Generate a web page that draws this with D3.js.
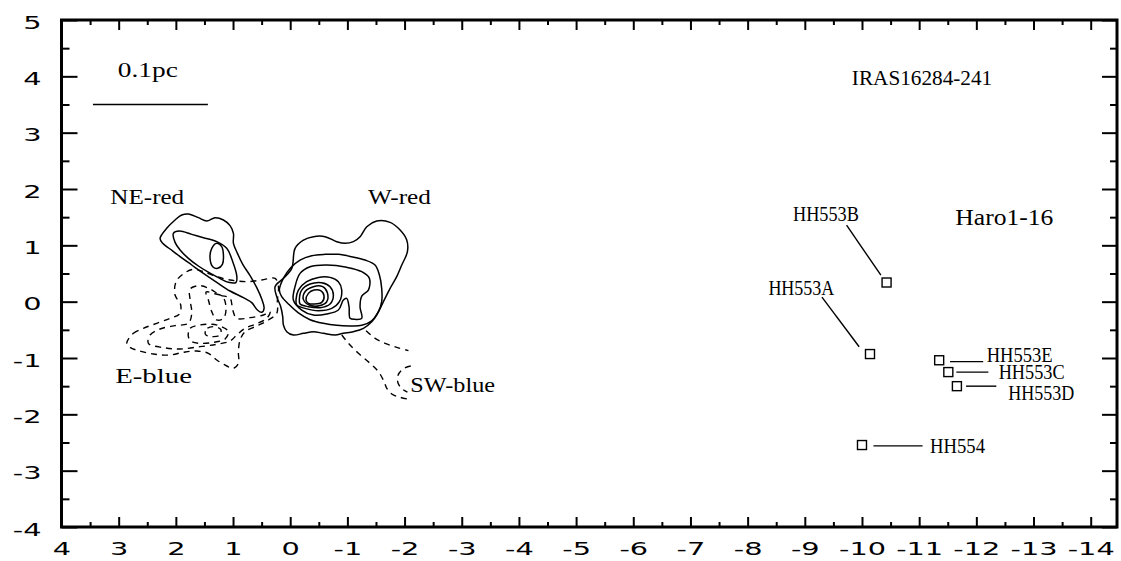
<!DOCTYPE html>
<html>
<head>
<meta charset="utf-8">
<script src="https://cdn.jsdelivr.net/npm/d3@7"></script>
<style>
  body { margin: 0; background: #fff; }
  svg { display: block; }
  .lbl { font-family: "Liberation Serif", "Times New Roman", serif; fill: #000; }
</style>
</head>
<body>
<svg id="chart" width="1121" height="561"></svg>
<script>
// tick labels
var xTicks = [4, 3, 2, 1, 0, -1, -2, -3, -4, -5, -6, -7, -8, -9, -10, -11, -12, -13, -14];
var yTicks = [-4, -3, -2, -1, 0, 1, 2, 3, 4, 5];

// red lobe contours (solid), offsets in the chart units
var neRed1 = [[2.276,1.124],[2.160,1.302],[2.014,1.450],[1.897,1.538],[1.781,1.556],[1.606,1.491],[1.460,1.432],[1.314,1.491],[1.168,1.450],[1.052,1.349],[0.993,1.213],[0.993,1.036],[0.923,0.858],[0.830,0.663],[0.702,0.462],[0.585,0.249],[0.498,0.047],[0.457,-0.118],[0.498,-0.189],[0.574,-0.148],[0.673,-0.018],[0.819,0.071],[1.052,0.189],[1.285,0.343],[1.518,0.503],[1.722,0.651],[1.926,0.799],[2.101,0.935],[2.230,1.036]];
var neRed2 = [[2.043,1.213],[1.938,1.254],[1.722,1.195],[1.518,1.136],[1.285,1.065],[1.110,0.947],[1.005,0.710],[0.935,0.462],[0.947,0.343],[1.081,0.343],[1.256,0.426],[1.448,0.533],[1.606,0.633],[1.781,0.769],[1.926,0.917],[2.014,1.053]];
var neRed3 = [[1.285,1.036],[1.198,0.976],[1.168,0.828],[1.186,0.663],[1.268,0.592],[1.355,0.621],[1.402,0.769],[1.372,0.947]];

var wRed1 = [[0.265,0.266],[0.119,0.414],[-0.027,0.591],[-0.085,0.947],[-0.231,1.094],[-0.406,1.154],[-0.610,1.154],[-0.814,1.065],[-0.960,1.035],[-1.105,1.065],[-1.222,1.154],[-1.339,1.331],[-1.513,1.432],[-1.747,1.408],[-1.922,1.272],[-2.038,1.094],[-2.050,0.887],[-1.951,0.651],[-1.863,0.444],[-1.747,0.236],[-1.630,0.000],[-1.513,-0.237],[-1.426,-0.355],[-1.280,-0.474],[-1.105,-0.533],[-0.930,-0.562],[-0.785,-0.592],[-0.580,-0.562],[-0.406,-0.533],[-0.231,-0.562],[-0.056,-0.592],[0.061,-0.533],[0.119,-0.414],[0.131,-0.266],[0.166,-0.089],[0.236,0.089]];
var wRed2 = [[0.190,0.207],[0.120,0.414],[-0.009,0.603],[-0.172,0.739],[-0.376,0.816],[-0.609,0.840],[-0.842,0.840],[-1.076,0.798],[-1.309,0.739],[-1.484,0.650],[-1.560,0.473],[-1.600,0.236],[-1.600,0.000],[-1.542,-0.178],[-1.425,-0.340],[-1.251,-0.420],[-1.046,-0.430],[-0.813,-0.420],[-0.580,-0.385],[-0.347,-0.320],[-0.143,-0.200],[0.032,-0.040],[0.149,0.088]];
var wRed3 = [[-0.084,0.266],[-0.172,0.502],[-0.347,0.621],[-0.638,0.650],[-0.988,0.609],[-1.251,0.532],[-1.385,0.414],[-1.367,0.206],[-1.251,0.100],[-1.221,-0.089],[-1.251,-0.296],[-1.134,-0.314],[-1.047,-0.296],[-1.029,-0.089],[-0.988,0.059],[-0.930,0.029],[-0.842,-0.149],[-0.638,-0.220],[-0.405,-0.237],[-0.201,-0.149],[-0.055,0.029]];
var wRed4 = [[-0.102,0.041],[-0.143,0.206],[-0.288,0.354],[-0.493,0.431],[-0.697,0.431],[-0.842,0.354],[-0.901,0.206],[-0.860,-0.001],[-0.726,-0.119],[-0.493,-0.160],[-0.259,-0.119],[-0.114,-0.060]];
var wRed5 = [[-0.160,0.041],[-0.201,0.206],[-0.347,0.313],[-0.551,0.337],[-0.697,0.266],[-0.755,0.118],[-0.697,-0.042],[-0.522,-0.107],[-0.318,-0.089],[-0.172,-0.042]];
var wRed6 = [[-0.230,0.041],[-0.259,0.177],[-0.405,0.266],[-0.568,0.266],[-0.650,0.159],[-0.638,-0.001],[-0.510,-0.072],[-0.335,-0.060]];
var wRed7 = [[-0.277,0.029],[-0.318,0.147],[-0.417,0.206],[-0.533,0.195],[-0.592,0.100],[-0.551,-0.012],[-0.423,-0.042],[-0.318,-0.030]];

// blue lobe contours (dashed)
var eBlue1 = [[2.859,-0.739],[2.743,-0.562],[2.568,-0.473],[2.335,-0.384],[2.101,-0.296],[1.938,-0.219],[1.915,-0.059],[2.014,0.118],[1.996,0.355],[1.856,0.503],[1.693,0.574],[1.518,0.533],[1.285,0.444],[1.052,0.385],[0.760,0.355],[0.498,0.385],[0.265,0.414],[0.206,0.266],[0.224,0.030],[0.235,-0.207],[0.381,-0.325],[0.585,-0.432],[0.789,-0.532],[0.877,-0.680],[0.906,-0.887],[0.906,-1.095],[0.993,-1.183],[1.110,-1.142],[1.285,-1.035],[1.431,-0.917],[1.635,-0.876],[1.868,-0.899],[2.101,-0.947],[2.393,-0.929],[2.655,-0.870],[2.801,-0.811]];
var eBlue2 = [[2.480,-0.739],[2.451,-0.592],[2.276,-0.485],[2.014,-0.426],[1.781,-0.384],[1.722,-0.207],[1.751,0.030],[1.751,0.225],[1.577,0.284],[1.402,0.225],[1.227,0.118],[1.052,0.059],[1.005,-0.148],[0.935,-0.296],[0.702,-0.284],[0.469,-0.237],[0.352,-0.177],[0.410,-0.296],[0.614,-0.402],[0.789,-0.473],[0.935,-0.592],[1.052,-0.698],[1.285,-0.757],[1.577,-0.799],[1.926,-0.840],[2.218,-0.816]];
var eBlue3 = [[1.781,-0.621],[1.751,-0.473],[1.577,-0.414],[1.372,-0.402],[1.198,-0.444],[1.081,-0.532],[1.139,-0.663],[1.343,-0.722],[1.577,-0.739],[1.722,-0.710]];
var eBlue4 = [[1.489,-0.562],[1.448,-0.473],[1.332,-0.444],[1.215,-0.491],[1.227,-0.592],[1.343,-0.621],[1.448,-0.609]];
var eBlue5 = [[1.472,0.170],[1.314,0.140],[1.180,0.089],[1.122,-0.118],[1.168,-0.296],[1.285,-0.325],[1.372,-0.177],[1.431,0.030]];

var swBlue1 = [[-0.902,-0.592],[-1.018,-0.740],[-1.193,-0.917],[-1.397,-1.095],[-1.543,-1.243],[-1.642,-1.420],[-1.689,-1.538],[-1.776,-1.639],[-1.922,-1.698],[-2.085,-1.734]];
var swBlue2 = [[-1.327,-0.515],[-1.485,-0.651],[-1.660,-0.740],[-1.864,-0.811],[-2.068,-0.870]];
var swBlue3 = [[-2.109,-1.142],[-1.980,-1.189],[-1.887,-1.302],[-1.887,-1.450],[-1.969,-1.556],[-2.050,-1.604]];

// Herbig-Haro knots
var hhNames = ["HH553A", "HH553B", "HH553C", "HH553D", "HH553E", "HH554"];
var hhX = [-10.14, -10.43, -11.51, -11.66, -11.35, -10.00];
var hhY = [-0.93, 0.34, -1.25, -1.50, -1.04, -2.545];

var svg = d3.select("#chart"),
    margin = {top: 20, right: 4, bottom: 34, left: 61.5},
    width = +svg.attr("width") - margin.left - margin.right,
    height = +svg.attr("height") - margin.top - margin.bottom,
    g = svg.append("g").attr("transform", "translate(" + margin.left + "," + margin.top + ")");

var x = d3.scaleLinear().domain([4, -14.46]).range([0, width]);
var y = d3.scaleLinear().domain([-4, 5]).range([height, 0]);

var xMinor = xTicks.slice(1).map(function(d) { return d + 0.5; });
var yMinor = yTicks.slice(1).map(function(d) { return d - 0.5; });

function tidy(sel) {
  sel.select(".domain").remove();
  sel.selectAll(".tick line").attr("stroke", "#000").attr("stroke-width", 2);
}

// bottom
g.append("g")
    .attr("transform", "translate(0," + height + ")")
    .call(d3.axisBottom(x).tickValues(xTicks).tickSize(-10).tickPadding(15)
      .tickFormat(function(d) { return String(d); }))
    .call(tidy)
    .attr("font-family", "'DejaVu Sans', sans-serif")
    .attr("font-size", 18)
  .selectAll("text")
    .attr("fill", "#000")
    .attr("transform", "scale(1.6,1)");
g.append("g")
    .attr("transform", "translate(0," + height + ")")
    .call(d3.axisBottom(x).tickValues(xMinor).tickSize(-5).tickFormat(""))
    .call(tidy);

// top
g.append("g")
    .call(d3.axisTop(x).tickValues(xTicks).tickSize(-10).tickFormat(""))
    .call(tidy);
g.append("g")
    .call(d3.axisTop(x).tickValues(xMinor).tickSize(-5).tickFormat(""))
    .call(tidy);

// left
g.append("g")
    .call(d3.axisLeft(y).tickValues(yTicks).tickSize(-16)
      .tickFormat(function(d) { return String(d); }))
    .call(tidy)
    .attr("font-family", "'DejaVu Sans', sans-serif")
    .attr("font-size", 18)
  .selectAll("text")
    .attr("fill", "#000")
    .attr("x", -20 / 1.6)
    .attr("dy", "0.45em")
    .attr("transform", "scale(1.6,1)");
g.append("g")
    .call(d3.axisLeft(y).tickValues(yMinor).tickSize(-8).tickFormat(""))
    .call(tidy);

// right
g.append("g")
    .attr("transform", "translate(" + width + ",0)")
    .call(d3.axisRight(y).tickValues(yTicks).tickSize(-15).tickFormat(""))
    .call(tidy);
g.append("g")
    .attr("transform", "translate(" + width + ",0)")
    .call(d3.axisRight(y).tickValues(yMinor).tickSize(-7).tickFormat(""))
    .call(tidy);

g.append("rect")
    .attr("width", width)
    .attr("height", height)
    .attr("fill", "none")
    .attr("stroke", "#000")
    .attr("stroke-width", 3);

// contours
var closedLine = d3.line()
    .x(function(d) { return x(d[0]); })
    .y(function(d) { return y(d[1]); })
    .curve(d3.curveCatmullRomClosed.alpha(0.5));
var openLine = d3.line()
    .x(function(d) { return x(d[0]); })
    .y(function(d) { return y(d[1]); })
    .curve(d3.curveCatmullRom.alpha(0.5));

var dashed = [eBlue1, eBlue2, eBlue3, eBlue4, eBlue5];
var dashedOpen = [swBlue1, swBlue2, swBlue3];
var solid = [neRed1, neRed2, neRed3, wRed1, wRed2, wRed3, wRed4, wRed5, wRed6, wRed7];

g.append("g").selectAll("path")
    .data(dashed)
    .enter().append("path")
    .attr("d", closedLine)
    .attr("fill", "none")
    .attr("stroke", "#000")
    .attr("stroke-width", 1.4)
    .attr("stroke-dasharray", "6,5");

g.append("g").selectAll("path")
    .data(dashedOpen)
    .enter().append("path")
    .attr("d", openLine)
    .attr("fill", "none")
    .attr("stroke", "#000")
    .attr("stroke-width", 1.4)
    .attr("stroke-dasharray", "6,5");

g.append("g").selectAll("path")
    .data(solid)
    .enter().append("path")
    .attr("d", closedLine)
    .attr("fill", "none")
    .attr("stroke", "#000")
    .attr("stroke-width", 1.5);

// HH knots
g.append("g").selectAll("rect")
    .data(hhNames)
    .enter().append("rect")
    .attr("x", function(d, i) { return x(hhX[i]) - 4.5; })
    .attr("y", function(d, i) { return y(hhY[i]) - 4.5; })
    .attr("width", 9)
    .attr("height", 9)
    .attr("fill", "none")
    .attr("stroke", "#000")
    .attr("stroke-width", 1.4);

// label placement and leader lines, in chart units
var notes = [
  {name: "HH553A", lx: -8.94, ly: 0.12, anchor: "middle", from: [-9.30, 0.08], to: [-9.95, -0.80]},
  {name: "HH553B", lx: -9.37, ly: 1.43, anchor: "middle", from: [-9.73, 1.36], to: [-10.33, 0.47]},
  {name: "HH553C", lx: -12.39, ly: -1.38, anchor: "start", from: [-11.65, -1.25], to: [-12.21, -1.25]},
  {name: "HH553D", lx: -12.56, ly: -1.75, anchor: "start", from: [-11.82, -1.50], to: [-12.35, -1.50]},
  {name: "HH553E", lx: -12.18, ly: -1.07, anchor: "start", from: [-11.54, -1.065], to: [-12.12, -1.065]},
  {name: "HH554", lx: -11.19, ly: -2.69, anchor: "start", from: [-10.20, -2.56], to: [-11.06, -2.56]}
];

g.append("g").selectAll("line")
    .data(notes)
    .enter().append("line")
    .attr("x1", function(d) { return x(d.from[0]); })
    .attr("y1", function(d) { return y(d.from[1]); })
    .attr("x2", function(d) { return x(d.to[0]); })
    .attr("y2", function(d) { return y(d.to[1]); })
    .attr("stroke", "#000")
    .attr("stroke-width", 1.4);

function label(t, px, py, anchor, fs, cw) {
  g.append("text")
      .attr("class", "lbl")
      .attr("x", x(px))
      .attr("y", y(py))
      .attr("text-anchor", anchor)
      .attr("font-size", fs)
      .attr("textLength", t.length * cw)
      .attr("lengthAdjust", "spacingAndGlyphs")
      .text(t);
}

notes.forEach(function(d) { label(d.name, d.lx, d.ly, d.anchor, 21, 11); });

label("0.1pc", 2.49, 3.99, "middle", 21, 12);
label("IRAS16284-241", -11.05, 3.85, "middle", 21, 10.8);
label("Haro1-16", -12.49, 1.36, "middle", 24, 12.25);
label("NE-red", 2.50, 1.73, "middle", 22, 12.3);
label("W-red", -1.91, 1.73, "middle", 22, 12.6);
label("E-blue", 2.39, -1.44, "middle", 22, 12.8);
label("SW-blue", -2.10, -1.60, "start", 22, 12.1);

// 0.1 pc scale bar
g.append("line")
    .attr("x1", x(3.45))
    .attr("x2", x(1.44))
    .attr("y1", y(3.5))
    .attr("y2", y(3.5))
    .attr("stroke", "#000")
    .attr("stroke-width", 1.4);
</script>
</body>
</html>
